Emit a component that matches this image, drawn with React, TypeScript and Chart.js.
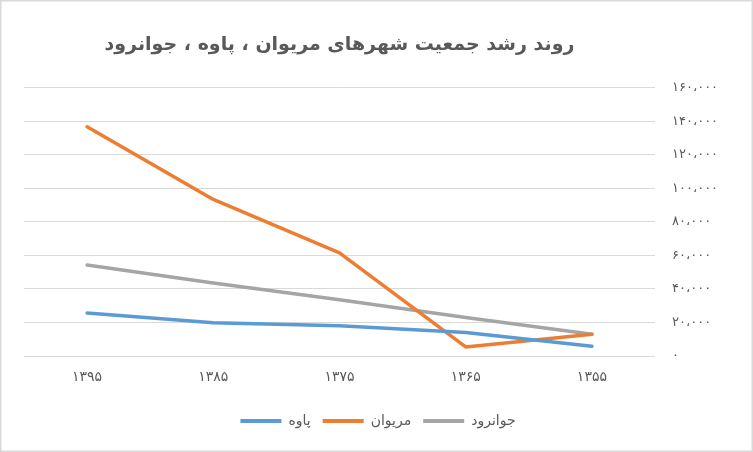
import React, { useEffect, useRef } from "react";
import { Chart, registerables } from "chart.js";

Chart.register(...registerables);

const CATEGORIES = ["۱۳۹۵", "۱۳۸۵", "۱۳۷۵", "۱۳۶۵", "۱۳۵۵"];
const PAVEH = [25600, 19900, 18000, 14000, 5800];
const MARIVAN = [136700, 93400, 61500, 5400, 13000];
const JAVANRUD = [54300, 43500, 33500, 23000, 13000];
const SERIES_NAMES = ["پاوه", "مریوان", "جوانرود"];
const SERIES_COLORS = ["#5B9BD5", "#ED7D31", "#A5A5A5"];
const Y_TICK_VALUES = [0, 20000, 40000, 60000, 80000, 100000, 120000, 140000, 160000];
const Y_TICK_LABELS = ["۰", "۲۰،۰۰۰", "۴۰،۰۰۰", "۶۰،۰۰۰", "۸۰،۰۰۰", "۱۰۰،۰۰۰", "۱۲۰،۰۰۰", "۱۴۰،۰۰۰", "۱۶۰،۰۰۰"];
const TITLE = "روند رشد جمعیت شهرهای مریوان ، پاوه ، جوانرود";

const FONT = "'DejaVu Sans', 'Noto Sans', sans-serif";
const TEXT_COLOR = "#595959";

const frame = {
  id: "frame",
  beforeDraw(chart: any) {
    const { ctx, width, height } = chart;
    ctx.save();
    ctx.fillStyle = "#ffffff";
    ctx.fillRect(0, 0, width, height);
    ctx.strokeStyle = "#D9D9D9";
    ctx.lineWidth = 1.5;
    ctx.strokeRect(0.75, 0.75, width - 1.5, height - 1.5);
    ctx.restore();
    // spaced digits on the axis labels
    ["x", "y"].forEach((id) => {
      const s = chart.scales[id];
      if (s && !s.__spaced) {
        const orig = s.drawLabels.bind(s);
        s.drawLabels = (area: any) => {
          const c = s.ctx;
          c.save();
          (c as any).letterSpacing = id === "x" ? "2px" : "1.5px";
          orig(area);
          c.restore();
        };
        s.__spaced = true;
      }
    });
  },
};

export default function App() {
  const ref = useRef<HTMLCanvasElement | null>(null);

  useEffect(() => {
    document.body.style.margin = "0";
    if (!ref.current) return;
    const seriesData = [PAVEH, MARIVAN, JAVANRUD];
    const chart = new Chart(ref.current, {
      type: "line",
      data: {
        labels: CATEGORIES,
        datasets: seriesData.map((d, i) => ({
          label: SERIES_NAMES[i],
          data: d,
          borderColor: SERIES_COLORS[i],
          backgroundColor: SERIES_COLORS[i],
          borderWidth: 3.5,
          borderCapStyle: "round" as const,
          borderJoinStyle: "round" as const,
          pointRadius: 0,
          pointHoverRadius: 0,
          tension: 0,
          fill: false,
          yAxisID: "y",
        })),
      },
      options: {
        animation: false,
        responsive: true,
        maintainAspectRatio: false,
        layout: { padding: { top: 8, left: 3, right: 0, bottom: 14 } },
        plugins: {
          tooltip: { enabled: false },
          title: {
            display: true,
            text: TITLE,
            fullSize: false,
            color: TEXT_COLOR,
            font: { family: FONT, size: 19, weight: "bold" },
            padding: { top: 26, bottom: 31 },
          },
          legend: {
            display: true,
            position: "bottom",
            labels: {
              boxWidth: 41,
              boxHeight: 4,
              padding: 12,
              color: TEXT_COLOR,
              font: { family: FONT, size: 14 },
              generateLabels: (c: any) =>
                c.data.datasets.map((ds: any, i: number) => ({
                  text: ds.label,
                  fillStyle: ds.borderColor,
                  strokeStyle: ds.borderColor,
                  lineWidth: 0,
                  hidden: false,
                  datasetIndex: i,
                  fontColor: TEXT_COLOR,
                })),
            },
          },
        },
        scales: {
          x: {
            type: "category",
            offset: true,
            grid: { display: false, drawTicks: false },
            border: { display: false },
            ticks: {
              color: TEXT_COLOR,
              font: { family: FONT, size: 14 },
              padding: 13,
              maxRotation: 0,
            },
            afterFit: (s: any) => {
              s.height = 46;
            },
          },
          yl: {
            position: "left",
            display: true,
            grid: { display: false, drawTicks: false },
            border: { display: false },
            ticks: { display: false },
            afterFit: (s: any) => {
              s.width = 21;
            },
          },
          y: {
            position: "right",
            min: 0,
            max: 160000,
            afterBuildTicks: (s: any) => {
              s.ticks = Y_TICK_VALUES.map((v) => ({ value: v }));
            },
            grid: { color: "#D9D9D9", lineWidth: 1, drawTicks: false },
            border: { display: false },
            ticks: {
              color: TEXT_COLOR,
              font: { family: FONT, size: 13 },
              padding: 17,
              callback: (_v: any, i: number) => Y_TICK_LABELS[i],
            },
            afterFit: (s: any) => {
              s.width = 98;
            },
          },
        },
      },
      plugins: [frame],
    });
    return () => chart.destroy();
  }, []);

  return (
    <div style={{ width: 753, height: 452, position: "relative" }}>
      <canvas ref={ref} />
    </div>
  );
}
